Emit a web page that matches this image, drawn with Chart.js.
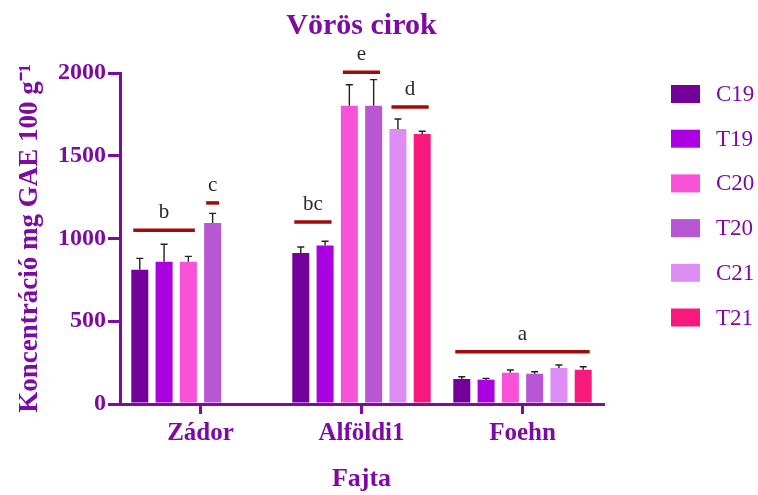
<!DOCTYPE html>
<html>
<head>
<meta charset="utf-8">
<script src="https://cdn.jsdelivr.net/npm/chart.js@4.4.1/dist/chart.umd.min.js"></script>
<style>
  html, body { margin: 0; padding: 0; background: #ffffff; }
  #wrap { width: 758px; height: 495px; }
</style>
</head>
<body>
<div id="wrap"><canvas id="c" width="758" height="495"></canvas></div>
<script>
// ---- data ----
const categories = ['Zádor', 'Alföldi1', 'Foehn'];
const seriesLabels = ['C19', 'T19', 'C20', 'T20', 'C21', 'T21'];
const c19 = [811, 912, 151];
const t19 = [860, 957, 147];
const c20 = [860, 1802, 189];
const t20 = [1094, 1802, 183];
const c21 = [null, 1662, 218];
const t21 = [null, 1631, 207];
const c19Err = [69, 37, 14];
const t19Err = [105, 26, 8];
const c20Err = [32, 127, 16];
const t20Err = [58, 158, 12];
const c21Err = [null, 60, 18];
const t21Err = [null, 17, 18];
const yTicks = [0, 500, 1000, 1500, 2000];
// significance groups
const sigLetters = ['b', 'c', 'bc', 'e', 'd', 'a'];
const sigCategory = [0, 0, 1, 1, 1, 2];
const sigFirstSeries = [0, 3, 0, 2, 4, 0];
const sigLastSeries = [2, 3, 1, 3, 5, 5];
const sigLevel = [1050, 1215, 1100, 2005, 1795, 315];

// ---- styles ----
const seriesColors = ['#74009a', '#ab00e0', '#f752d8', '#b856d4', '#dd8df4', '#f8197d'];
const purple = '#7d0aa3';
const sigColor = '#a30a0a';
const serif = "'Liberation Serif', 'Times New Roman', serif";

const values = [c19, t19, c20, t20, c21, t21];
const errors = [c19Err, t19Err, c20Err, t20Err, c21Err, t21Err];

const errorBarPlugin = {
  id: 'errorBars',
  afterDatasetsDraw(chart) {
    const ctx = chart.ctx;
    const y = chart.scales.y;
    ctx.save();
    ctx.strokeStyle = '#222222';
    ctx.lineWidth = 1.4;
    chart.data.datasets.forEach((ds, di) => {
      const meta = chart.getDatasetMeta(di);
      meta.data.forEach((bar, i) => {
        const v = ds.data[i];
        const e = errors[di][i];
        if (v == null || e == null) return;
        const top = y.getPixelForValue(v + e);
        const base = y.getPixelForValue(v);
        ctx.beginPath();
        ctx.moveTo(bar.x, base);
        ctx.lineTo(bar.x, top);
        ctx.moveTo(bar.x - 3.5, top);
        ctx.lineTo(bar.x + 3.5, top);
        ctx.stroke();
      });
    });
    ctx.restore();
  }
};

const sigPlugin = {
  id: 'sigLetters',
  afterDatasetsDraw(chart) {
    const ctx = chart.ctx;
    const y = chart.scales.y;
    ctx.save();
    sigLetters.forEach((txt, k) => {
      const b1 = chart.getDatasetMeta(sigFirstSeries[k]).data[sigCategory[k]];
      const b2 = chart.getDatasetMeta(sigLastSeries[k]).data[sigCategory[k]];
      const x1 = b1.x - b1.width / 2 + 2;
      const x2 = b2.x + b2.width / 2 - 2;
      const py = y.getPixelForValue(sigLevel[k]);
      ctx.strokeStyle = sigColor;
      ctx.lineWidth = 3.5;
      ctx.beginPath();
      ctx.moveTo(x1, py);
      ctx.lineTo(x2, py);
      ctx.stroke();
      ctx.fillStyle = '#2a2a2a';
      ctx.font = "21px " + serif;
      ctx.textAlign = 'center';
      ctx.textBaseline = 'alphabetic';
      ctx.fillText(txt, (x1 + x2) / 2, py - 12);
    });
    ctx.restore();
  }
};

const legendPlugin = {
  id: 'sideLegend',
  afterDraw(chart) {
    const ctx = chart.ctx;
    ctx.save();
    chart.data.datasets.forEach((ds, i) => {
      const cy = 94 + i * 44.7;
      ctx.fillStyle = ds.backgroundColor;
      ctx.fillRect(671, cy - 9, 29, 18);
      ctx.fillStyle = purple;
      ctx.font = "23px " + serif;
      ctx.textAlign = 'left';
      ctx.textBaseline = 'middle';
      ctx.fillText(ds.label, 716, cy + 1);
    });
    ctx.restore();
  }
};

new Chart(document.getElementById('c'), {
  type: 'bar',
  data: {
    labels: categories,
    datasets: seriesLabels.map((lab, i) => ({
      label: lab,
      data: values[i],
      backgroundColor: seriesColors[i],
      borderWidth: 0,
      categoryPercentage: 0.905,
      barPercentage: 0.7
    }))
  },
  options: {
    responsive: false,
    animation: false,
    layout: { padding: { left: 0, right: 155, top: 0, bottom: 0 } },
    plugins: {
      legend: { display: false },
      tooltip: { enabled: false },
      title: {
        display: true,
        text: 'Vörös cirok',
        color: purple,
        fullSize: false,
        font: { family: serif, size: 30, weight: 'bold' },
        padding: { top: 8, bottom: 29 }
      }
    },
    scales: {
      x: {
        grid: { display: true, drawOnChartArea: false, drawTicks: true, tickLength: 10, offset: false, color: purple, lineWidth: 3 },
        border: { display: true, color: purple, width: 3 },
        ticks: { color: purple, font: { family: serif, size: 25, weight: 'bold' }, padding: 5 },
        title: { display: true, text: 'Fajta', color: purple, font: { family: serif, size: 26, weight: 'bold' }, padding: { top: 0, bottom: 0 } },
        afterFit(scale) { scale.height = 91; }
      },
      y: {
        min: 0,
        max: 2000,
        afterBuildTicks(scale) { scale.ticks = yTicks.map(v => ({ value: v })); },
        grid: { display: true, drawOnChartArea: false, drawTicks: true, tickLength: 12, color: purple, lineWidth: 3 },
        border: { display: true, color: purple, width: 3 },
        ticks: { color: purple, font: { family: serif, size: 24, weight: 'bold' }, padding: 2, callback: (v) => String(v) },
        title: { display: true, text: 'Koncentráció mg GAE 100 g⁻¹', color: purple, font: { family: serif, size: 27, weight: 'bold' }, padding: { top: 14, bottom: 0 } },
        afterFit(scale) { scale.width = 120; }
      }
    }
  },
  plugins: [errorBarPlugin, sigPlugin, legendPlugin]
});
</script>
</body>
</html>
